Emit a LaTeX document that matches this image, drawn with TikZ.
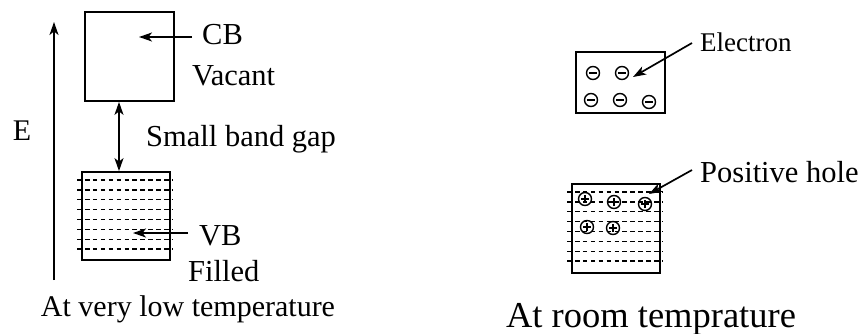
\documentclass[tikz,border=0pt]{standalone}
\usepackage{fontspec}
\setmainfont{Liberation Serif}
\usetikzlibrary{arrows.meta}

\tikzset{
  band/.style={draw, line width=1.8pt},
  levels/.style={line width=1.3pt, dash pattern=on 4.5pt off 3.4pt},
  pointer/.style={line width=1.7pt, -{Stealth[length=13pt,width=9pt,inset=3.5pt]}},
  twoway/.style={line width=1.7pt, {Stealth[length=13pt,width=9pt,inset=3.5pt]}-{Stealth[length=13pt,width=9pt,inset=3.5pt]}},
  lbl/.style={inner sep=0pt, anchor=base west, font=\fontsize{30.5}{33}\selectfont},
  carrier/.style={circle, draw, line width=1.4pt, minimum size=13pt, inner sep=0pt},
  elec/.style={carrier, path picture={
      \draw[line width=1.8pt] ([xshift=-4pt]path picture bounding box.center) -- ([xshift=4pt]path picture bounding box.center);}},
  hole/.style={carrier, path picture={
      \draw[line width=1.5pt] ([xshift=-4pt]path picture bounding box.center) -- ([xshift=4pt]path picture bounding box.center);
      \draw[line width=1.5pt] ([yshift=-4pt]path picture bounding box.center) -- ([yshift=4pt]path picture bounding box.center);}},
}

\begin{document}
\begin{tikzpicture}[x=1pt,y=-1pt]
\useasboundingbox (0,0) rectangle (858,334);

% ---------- low temperature ----------
% energy axis
\coordinate (axlo) at (54,280);
\coordinate (axhi) at (54,22);
\draw[pointer] (axlo) -- (axhi);
\node[inner sep=0pt, font=\fontsize{30}{33}\selectfont] (elab) at (22,131) {E};

% conduction band
\node[band, minimum width=89pt, minimum height=89pt, inner sep=0pt] (cb) at (129.5,56.5) {};
\node[lbl] (cbtxt) at (202,45) {CB};
\node[lbl] (vac) at (192,85) {Vacant};
\coordinate (cbtail) at (192,37);
\coordinate (cbhead) at (139,37);
\draw[pointer] (cbtail) -- (cbhead);

% valence band with filled levels
\node[band, minimum width=88pt, minimum height=88pt, inner sep=0pt] (vb) at (126,216) {};
\foreach \k in {0,...,7}
  \draw[levels] ([xshift=-4pt, yshift={-9pt-9.86pt*\k}]vb.north west) -- ([xshift=2pt, yshift={-9pt-9.86pt*\k}]vb.north east);
\node[lbl] (vbtxt) at (199,245) {VB};
\node[lbl] (fil) at (188,281) {Filled};
\coordinate (vbtail) at (188,233);
\coordinate (vbhead) at (133,233);
\draw[pointer] (vbtail) -- (vbhead);

% band gap
\draw[twoway] (cb.south -| 119,0) -- (vb.north -| 119,0);
\node[lbl] (gap) at (146,146) {Small band gap};

\node[inner sep=0pt, anchor=base, font=\fontsize{30}{33}\selectfont] (cap1) at (188,316) {At very low temperature};

% ---------- room temperature ----------
% conduction band with free electrons
\node[band, minimum width=89pt, minimum height=61pt, inner sep=0pt] (cb2) at (620.5,82.5) {};
\node[elec] (e1) at (593,73) {};
\node[elec] (e2) at (622,73) {};
\node[elec] (e3) at (591,100) {};
\node[elec] (e4) at (620,100) {};
\node[elec] (e5) at (649,102) {};
\coordinate (etail) at (692,43);
\coordinate (ehead) at (633,77);
\draw[pointer] (etail) -- (ehead);
\node[lbl, font=\fontsize{27}{30}\selectfont] (etxt) at (700,52) {Electron};

% valence band with holes
\node[band, minimum width=88pt, minimum height=89pt, inner sep=0pt] (vb2) at (616,228.5) {};
\foreach \k in {0,...,7}
  \draw[levels] ([xshift=-4pt, yshift={-9pt-9.86pt*\k}]vb2.north west) -- ([xshift=2pt, yshift={-9pt-9.86pt*\k}]vb2.north east);
\node[hole] (h1) at (585,199) {};
\node[hole] (h2) at (614,202) {};
\node[hole] (h3) at (645,204) {};
\node[hole] (h4) at (587,227) {};
\node[hole] (h5) at (613,228) {};
\coordinate (htail) at (692,170);
\coordinate (hhead) at (649,194);
\draw[pointer] (htail) -- (hhead);
\node[lbl] (htxt) at (700,182) {Positive hole};

\node[inner sep=0pt, anchor=base, font=\fontsize{36.5}{40}\selectfont] (cap2) at (651,327) {At room temprature};
\end{tikzpicture}
\end{document}
